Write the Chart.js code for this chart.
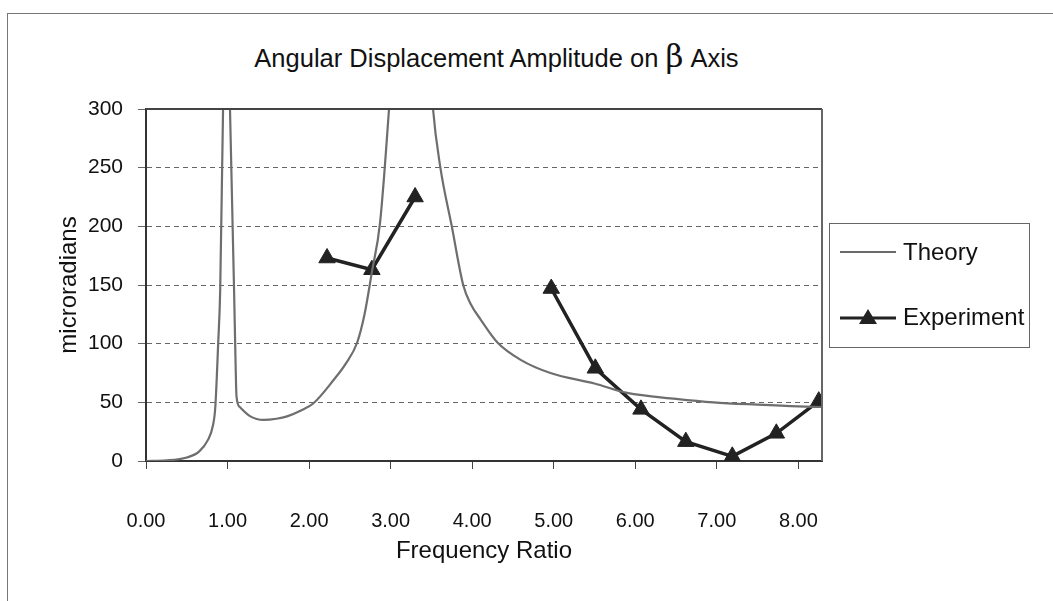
<!DOCTYPE html>
<html>
<head>
<meta charset="utf-8">
<script src="https://cdn.jsdelivr.net/npm/chart.js@4.4.0/dist/chart.umd.min.js"></script>
<style>
  body { margin: 0; background: #fff; }
  #wrap { position: relative; width: 1053px; height: 601px; overflow: hidden; background: #fff; font-family: "Liberation Sans", Arial, sans-serif; }
  #outer { position: absolute; left: 7px; top: 13px; width: 1100px; height: 700px; border-top: 1px solid #777; border-left: 1px solid #777; }
  #title { position: absolute; left: 0; width: 993px; top: 38px; text-align: center; font-size: 25.5px; color: #111; line-height: 36px; white-space: nowrap; }
  #title .beta { font-family: "DejaVu Serif", "Liberation Serif", serif; font-size: 31px; }
  #c { position: absolute; left: 0; top: 0; }
  #legend { position: absolute; left: 829px; top: 223px; width: 201px; height: 125px; border: 1px solid #666; box-sizing: border-box; }
  .row { position: absolute; left: 10px; height: 30px; display: flex; align-items: center; font-size: 24px; color: #111; }
  .row svg { margin-right: 7px; }
</style>
</head>
<body>
<div id="wrap">
  <div id="outer"></div>
  <div id="title">Angular Displacement Amplitude on <span class="beta">β</span> Axis</div>
  <canvas id="c" width="1053" height="601"></canvas>
  <div id="legend">
    <div class="row" style="top:13px"><svg width="56" height="10"><line x1="0" y1="5" x2="56" y2="5" stroke="#6a6a6a" stroke-width="2"/></svg>Theory</div>
    <div class="row" style="top:78px"><svg width="56" height="18"><line x1="0" y1="10" x2="56" y2="10" stroke="#222" stroke-width="3"/><polygon points="28,1 37,16 19,16" fill="#222"/></svg>Experiment</div>
  </div>
</div>
<script>
// curva teórica
const theoryX = [0, 0.25, 0.5, 0.65, 0.76, 0.82, 0.85, 0.885, 0.91, 0.945, 0.985, 1.03, 1.08, 1.095, 1.11, 1.15, 1.28, 1.44, 1.6, 1.73, 1.9, 2.05, 2.3, 2.45, 2.59, 2.68, 2.77, 2.87, 2.98, 3.25, 3.52, 3.61, 3.75, 3.89, 3.98, 4.1, 4.31, 4.6, 4.96, 5.5, 5.9, 6.5, 6.96, 7.5, 8.0, 8.3];
const theoryY = [0, 0.5, 3, 8, 18, 30, 46, 100, 146, 300, 420, 300, 146, 95, 55, 46, 38, 35, 36, 38, 43, 49, 69, 83, 101, 125, 161, 203, 300, 600, 300, 250, 200, 150, 134, 121, 101, 86, 75, 66, 58, 53, 50, 48, 46.5, 46];

// puntos medidos (null = hueco en la serie)
const expX = [2.22, 2.77, 3.30, 3.86, 4.97, 5.51, 6.07, 6.62, 7.19, 7.73, 8.25];
const expY = [173, 163, 225, null, 147, 79, 44, 16.5, 4, 23.6, 51];

const xTicks = [0, 1, 2, 3, 4, 5, 6, 7, 8];
const yTicks = [0, 50, 100, 150, 200, 250, 300];

const FONT = '"Liberation Sans", Arial, sans-serif';
Chart.defaults.font.family = FONT;
Chart.defaults.color = '#111';

const framePlugin = {
  id: 'frame',
  afterDraw(chart) {
    const a = chart.chartArea, ctx = chart.ctx;
    ctx.save();
    ctx.lineWidth = 2;
    ctx.strokeStyle = '#444';
    ctx.beginPath();
    ctx.moveTo(a.left, a.top);
    ctx.lineTo(a.right, a.top);
    ctx.stroke();
    ctx.strokeStyle = '#666';
    ctx.beginPath();
    ctx.moveTo(a.right, a.top);
    ctx.lineTo(a.right, a.bottom);
    ctx.stroke();
    ctx.restore();
  }
};

new Chart(document.getElementById('c'), {
  type: 'line',
  data: {
    datasets: [
      {
        label: 'Theory',
        data: theoryX.map((x, i) => ({ x, y: theoryY[i] })),
        borderColor: '#6e6e6e',
        borderWidth: 2.2,
        pointRadius: 0,
        cubicInterpolationMode: 'monotone',
        fill: false
      },
      {
        label: 'Experiment',
        data: expX.map((x, i) => ({ x, y: expY[i] })),
        borderColor: '#222',
        backgroundColor: '#222',
        borderWidth: 3.5,
        pointStyle: 'triangle',
        pointRadius: 9.5,
        pointBorderWidth: 1,
        spanGaps: false,
        tension: 0,
        fill: false
      }
    ]
  },
  options: {
    responsive: false,
    animation: false,
    devicePixelRatio: 1,
    layout: { padding: { top: 109, right: 231, bottom: 0, left: 0 } },
    plugins: { legend: { display: false }, tooltip: { enabled: false }, title: { display: false } },
    scales: {
      x: {
        type: 'linear',
        min: 0,
        max: 8.29,
        afterBuildTicks: s => { s.ticks = xTicks.map(v => ({ value: v })); },
        afterFit: s => { s.height = 140; },
        ticks: { font: { size: 20 }, color: '#111', padding: 40, maxRotation: 0, callback: v => Number(v).toFixed(2) },
        grid: { drawOnChartArea: false, drawTicks: true, tickLength: 8, tickColor: '#444', tickWidth: 1 },
        border: { color: '#333', width: 2 },
        title: { display: true, text: 'Frequency Ratio', font: { size: 24 }, color: '#111', padding: { top: 0, bottom: 35 } }
      },
      y: {
        min: 0,
        max: 300,
        afterBuildTicks: s => { s.ticks = yTicks.map(v => ({ value: v })); },
        afterFit: s => { s.width = 146; },
        ticks: { font: { size: 21 }, color: '#111', padding: 15 },
        grid: {
          color: c => (c.tick && (c.tick.value === 0 || c.tick.value === 300)) ? 'rgba(0,0,0,0)' : '#666',
          lineWidth: 1,
          tickColor: '#666',
          tickLength: 8
        },
        border: { color: '#333', width: 2, dash: [5, 4] },
        title: { display: true, text: 'microradians', font: { size: 24 }, color: '#111', padding: { top: 55, bottom: 0 } }
      }
    }
  },
  plugins: [framePlugin]
});
</script>
</body>
</html>
